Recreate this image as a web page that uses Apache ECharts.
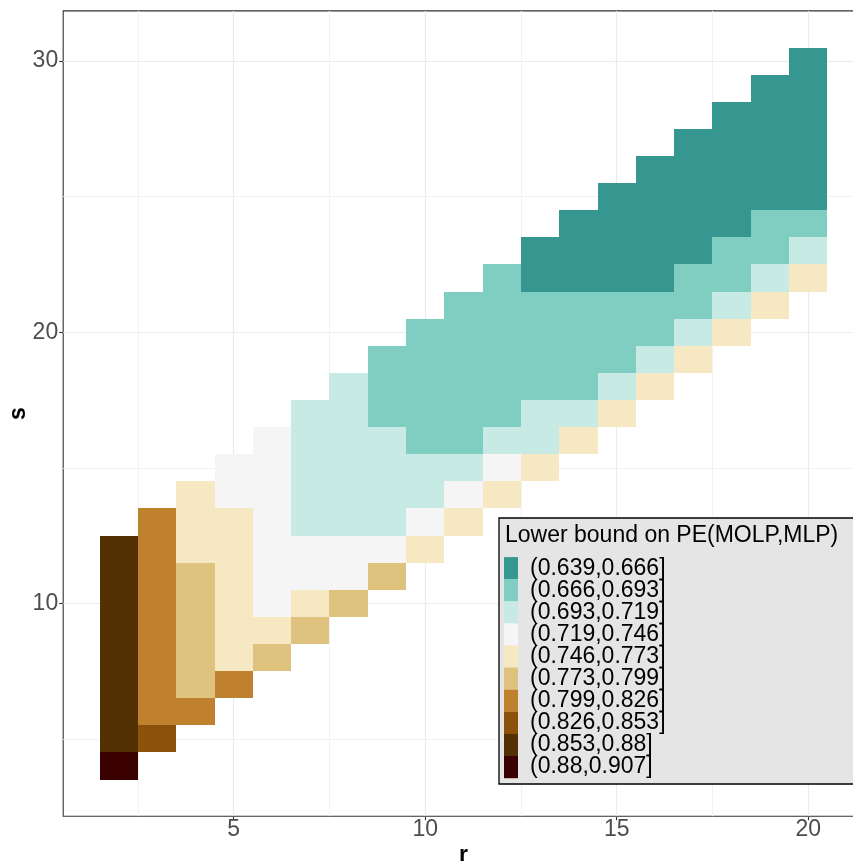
<!DOCTYPE html>
<html>
<head>
<meta charset="utf-8">
<script src="https://cdn.jsdelivr.net/npm/echarts@6/dist/echarts.min.js"></script>
<style>
  html, body { margin: 0; padding: 0; background: #ffffff; }
  #chart { width: 853px; height: 861px; }
</style>
</head>
<body>
<div id="chart"></div>
<script>
// ---- data ----
const rValues = [2, 3, 4, 5, 6, 7, 8, 9, 10, 11, 12, 13, 14, 15, 16, 17, 18, 19, 20];
// lowest s present in each r column (each column holds 9 consecutive s values)
const sLowest = [4, 5, 6, 7, 8, 9, 10, 11, 12, 13, 14, 15, 16, 17, 18, 19, 20, 21, 22];
// lower bound on PE for each column, from lowest s upward
const peR2  = [0.893, 0.875, 0.870, 0.866, 0.863, 0.861, 0.859, 0.858, 0.857];
const peR3  = [0.838, 0.823, 0.817, 0.812, 0.809, 0.807, 0.805, 0.804, 0.803];
const peR4  = [0.815, 0.797, 0.792, 0.787, 0.782, 0.777, 0.771, 0.762, 0.752];
const peR5  = [0.805, 0.770, 0.766, 0.762, 0.758, 0.754, 0.750, 0.742, 0.735];
const peR6  = [0.785, 0.760, 0.744, 0.740, 0.736, 0.732, 0.728, 0.725, 0.722];
const peR7  = [0.782, 0.757, 0.740, 0.725, 0.716, 0.711, 0.706, 0.701, 0.697];
const peR8  = [0.778, 0.737, 0.723, 0.717, 0.713, 0.709, 0.705, 0.700, 0.696];
const peR9  = [0.776, 0.734, 0.716, 0.710, 0.704, 0.698, 0.691, 0.686, 0.681];
const peR10 = [0.768, 0.731, 0.712, 0.700, 0.692, 0.687, 0.682, 0.677, 0.672];
const peR11 = [0.765, 0.728, 0.708, 0.691, 0.687, 0.683, 0.679, 0.675, 0.670];
const peR12 = [0.763, 0.725, 0.704, 0.690, 0.685, 0.681, 0.677, 0.673, 0.668];
const peR13 = [0.761, 0.713, 0.700, 0.689, 0.684, 0.679, 0.674, 0.665, 0.660];
const peR14 = [0.759, 0.710, 0.692, 0.686, 0.680, 0.674, 0.664, 0.659, 0.654];
const peR15 = [0.758, 0.707, 0.690, 0.682, 0.675, 0.665, 0.660, 0.655, 0.650];
const peR16 = [0.757, 0.704, 0.688, 0.678, 0.664, 0.659, 0.654, 0.649, 0.645];
const peR17 = [0.756, 0.702, 0.686, 0.675, 0.663, 0.657, 0.652, 0.647, 0.643];
const peR18 = [0.755, 0.700, 0.684, 0.672, 0.662, 0.656, 0.650, 0.645, 0.641];
const peR19 = [0.754, 0.698, 0.682, 0.670, 0.661, 0.655, 0.649, 0.644, 0.640];
const peR20 = [0.753, 0.696, 0.680, 0.665, 0.658, 0.652, 0.647, 0.643, 0.640];
const peColumns = [peR2, peR3, peR4, peR5, peR6, peR7, peR8, peR9, peR10, peR11,
                   peR12, peR13, peR14, peR15, peR16, peR17, peR18, peR19, peR20];

const binEdges  = [0.639, 0.666, 0.693, 0.719, 0.746, 0.773, 0.799, 0.826, 0.853, 0.88, 0.907];
const binLabels = ['(0.639,0.666]', '(0.666,0.693]', '(0.693,0.719]', '(0.719,0.746]', '(0.746,0.773]',
                   '(0.773,0.799]', '(0.799,0.826]', '(0.826,0.853]', '(0.853,0.88]', '(0.88,0.907]'];
const binColors = ['#35978f', '#80cdc1', '#c7eae5', '#f5f5f5', '#f6e8c3',
                   '#dfc27d', '#bf812d', '#8c510a', '#543005', '#3b0000'];

const xTicks = [5, 10, 15, 20];
const yTicks = [10, 20, 30];
const xMinorGrid = [2.5, 7.5, 12.5, 17.5];
const yMinorGrid = [5, 15, 25];
const legendTitle = 'Lower bound on PE(MOLP,MLP)';

// ---- build cells ----
const cells = [];
rValues.forEach((r, ci) => {
  peColumns[ci].forEach((v, k) => {
    cells.push([r, sLowest[ci] + k, v]);
  });
});

const pieces = binLabels.map((lab, i) => ({
  gt: binEdges[i], lte: binEdges[i + 1], label: lab, color: binColors[i]
}));

const FONT = '"Liberation Sans", Arial, Helvetica, sans-serif';

const gridLineData = [];
xTicks.forEach(v => gridLineData.push({ xAxis: v, lineStyle: { color: '#ebebeb', width: 1.2, type: 'solid' } }));
xMinorGrid.forEach(v => gridLineData.push({ xAxis: v, lineStyle: { color: '#f2f2f2', width: 1, type: 'solid' } }));
yTicks.forEach(v => gridLineData.push({ yAxis: v, lineStyle: { color: '#ebebeb', width: 1.2, type: 'solid' } }));
yMinorGrid.forEach(v => gridLineData.push({ yAxis: v, lineStyle: { color: '#f2f2f2', width: 1, type: 'solid' } }));

const chart = echarts.init(document.getElementById('chart'), null, { renderer: 'canvas' });
chart.setOption({
  animation: false,
  backgroundColor: '#ffffff',
  grid: {
    left: 63.2, top: 10.9, right: -10.8, bottom: 44.8,
    containLabel: false, outerBoundsMode: 'none',
    show: true, borderColor: '#333333', borderWidth: 1.1, backgroundColor: 'transparent'
  },
  xAxis: {
    type: 'value', min: 0.55, max: 21.45,
    axisLine: { show: false },
    axisTick: { show: true, customValues: xTicks, length: 4, lineStyle: { color: '#333333', width: 1.1 } },
    axisLabel: { customValues: xTicks, fontSize: 23, color: '#4d4d4d', margin: 2, fontFamily: FONT },
    splitLine: { show: false },
    name: 'r', nameLocation: 'middle', nameGap: 28, nameMoveOverlap: false,
    nameTextStyle: { fontSize: 23, fontWeight: 'bold', color: '#000', fontFamily: FONT }
  },
  yAxis: {
    type: 'value', min: 2.15, max: 31.85,
    axisLine: { show: false },
    axisTick: { show: true, customValues: yTicks, length: 4, lineStyle: { color: '#333333', width: 1.1 } },
    axisLabel: { customValues: yTicks, fontSize: 23, color: '#4d4d4d', margin: 5, fontFamily: FONT },
    splitLine: { show: false },
    name: 's', nameLocation: 'middle', nameGap: 33, nameMoveOverlap: false,
    nameTextStyle: { fontSize: 23, fontWeight: 'bold', color: '#000', fontFamily: FONT }
  },
  visualMap: {
    type: 'piecewise',
    dimension: 2,
    seriesIndex: 0,
    pieces: pieces,
    inverse: true,
    orient: 'vertical',
    align: 'left',
    left: 504, top: 556.7,
    padding: 0,
    itemWidth: 14, itemHeight: 22.2, itemGap: -0.9, textGap: 12,
    itemSymbol: 'rect',
    hoverLink: false,
    textStyle: { fontSize: 23, color: '#000', fontFamily: FONT },
    z: 6
  },
  graphic: [
    { type: 'rect', z: 5, silent: true,
      shape: { x: 499, y: 518, width: 380, height: 266 },
      style: { fill: '#e5e5e5', stroke: '#000000', lineWidth: 1.3 } },
    { type: 'text', z: 7, silent: true, x: 505, y: 536,
      style: { text: legendTitle, fontSize: 23, fontFamily: FONT, fill: '#000',
               verticalAlign: 'middle', align: 'left' } }
  ],
  series: [
    {
      type: 'custom',
      name: 'PE',
      z: 3,
      data: cells,
      encode: { x: 0, y: 1 },
      renderItem: function (params, api) {
        const r = api.value(0), s = api.value(1);
        const p0 = api.coord([r - 0.5, s + 0.5]);
        const p1 = api.coord([r + 0.5, s - 0.5]);
        const x0 = Math.round(p0[0]), y0 = Math.round(p0[1]);
        const x1 = Math.round(p1[0]), y1 = Math.round(p1[1]);
        return {
          type: 'rect',
          shape: { x: x0, y: y0, width: x1 - x0, height: y1 - y0 },
          style: { fill: api.visual('color') }
        };
      }
    },
    {
      type: 'line',
      name: 'grid',
      z: 1,
      data: [],
      silent: true,
      markLine: {
        z: 1,
        silent: true,
        symbol: ['none', 'none'],
        label: { show: false },
        lineStyle: { type: 'solid' },
        animation: false,
        data: gridLineData
      }
    }
  ]
});
</script>
</body>
</html>
